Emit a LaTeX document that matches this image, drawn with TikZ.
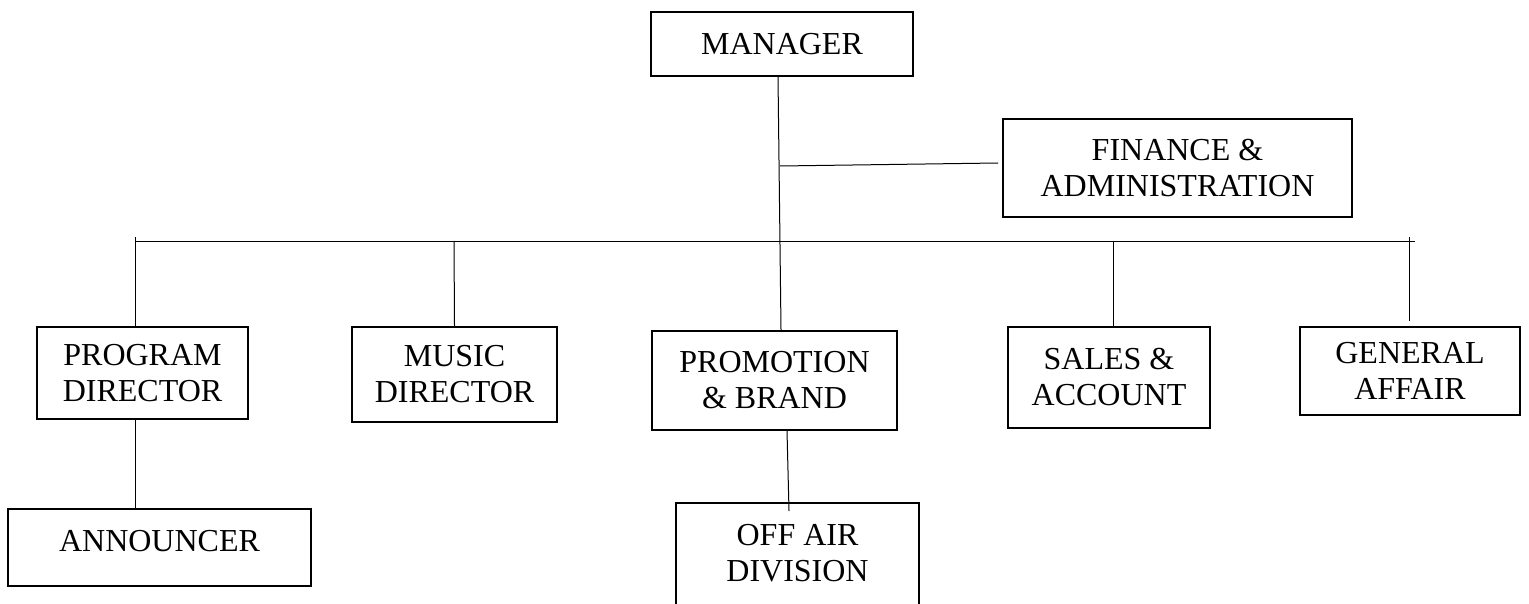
\documentclass[tikz,border=0pt]{standalone}
\usepackage{fontspec}
\setmainfont{Liberation Serif}
\usetikzlibrary{calc}
\begin{document}
\begin{tikzpicture}[x=0.5pt,y=-0.5pt,
  box/.style={draw,line width=1pt,rectangle,inner sep=0pt,align=center,font=\fontsize{16}{18}\selectfont},
  lbl/.style={inner sep=0pt,align=center,font=\fontsize{16}{18}\selectfont},
  conn/.style={line width=0.5pt}]
\useasboundingbox (0,0) rectangle (1529,604);
\clip (0,0) rectangle (1529,604);
% boxes
\node[box,minimum width=131pt,minimum height=32pt] (mgr) at (782,44) {MANAGER};
\node[box,minimum width=174.5pt,minimum height=49pt] (fin) at (1177.5,168) {FINANCE \&\\ADMINISTRATION};
\node[box,minimum width=105.5pt,minimum height=46pt] (prog) at (142.5,373) {PROGRAM\\DIRECTOR};
\node[box,minimum width=102.5pt,minimum height=47.5pt] (music) at (454.5,374.5) {MUSIC\\DIRECTOR};
\node[box,minimum width=122.5pt,minimum height=49.5pt] (promo) at (774.5,380.5) {PROMOTION\\\& BRAND};
\node[box,minimum width=101pt,minimum height=50.5pt] (sales) at (1109,377.5) {SALES \&\\ACCOUNT};
\node[box,minimum width=110pt,minimum height=44pt] (gen) at (1410,371) {GENERAL\\AFFAIR};
\node[box,minimum width=151.5pt,minimum height=38.5pt] (ann) at (159.5,547.5) {};
\node[lbl] (anntext) at (159.5,541) {ANNOUNCER};
\node[box,minimum width=121.5pt,minimum height=63.5pt] (off) at (797.5,566.5) {};
\node[lbl] (offtext) at (797.5,553) {OFF AIR\\DIVISION};
% junction coordinates
\coordinate (j1) at (780,166);
\coordinate (busL) at (135,241);
\coordinate (busR) at (1415,241);
\coordinate (progtop) at (135,237);
\coordinate (musictop) at (454,241);
\coordinate (salestop) at (1113,241);
\coordinate (gentop) at (1409,237);
% connectors
\draw[conn] ($(mgr.south)+(-4,0)$) -- ($(promo.north)+(6.5,0)$);
\draw[conn] (j1) -- ($(fin.west)+(-4,-5)$);
\draw[conn] (busL) -- (busR);
\draw[conn] (progtop) -- ($(prog.north)+(-7.5,0)$);
\draw[conn] (musictop) -- (music.north);
\draw[conn] (salestop) -- ($(sales.north)+(4,0)$);
\draw[conn] (gentop) -- ($(gen.north)+(-1,-5)$);
\draw[conn] ($(prog.south)+(-7.5,0)$) -- ($(ann.north)+(-24.5,0)$);
\draw[conn] ($(promo.south)+(12.5,0)$) -- ($(off.north)+(-8.5,9)$);
\end{tikzpicture}
\end{document}
